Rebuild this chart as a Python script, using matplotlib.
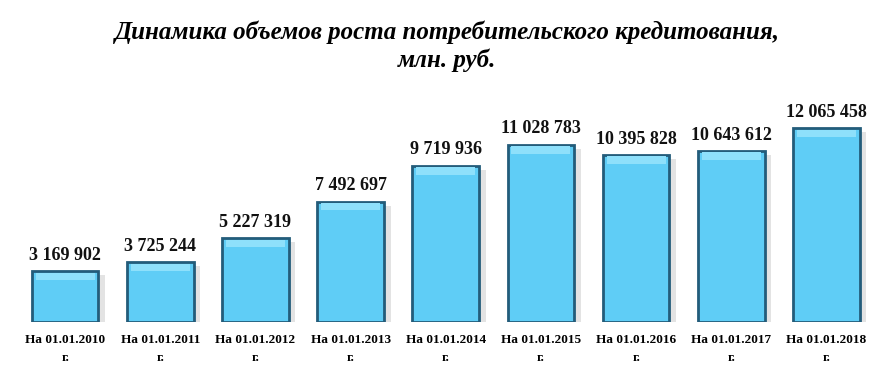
import numpy as np
import matplotlib.pyplot as plt

dates = ["01.01.2010", "01.01.2011", "01.01.2012", "01.01.2013", "01.01.2014",
         "01.01.2015", "01.01.2016", "01.01.2017", "01.01.2018"]
values = [3169902, 3725244, 5227319, 7492697, 9719936,
          11028783, 10395828, 10643612, 12065458]
title = "Динамика объемов роста потребительского кредитования,\nмлн. руб."

plt.rcParams['font.family'] = ['Liberation Serif', 'DejaVu Serif']

fig = plt.figure(figsize=(8.94, 3.69), dpi=100)

# soft gray background gradient
bg = fig.add_axes([0, 0, 1, 1], zorder=-1)
grad = np.concatenate([np.linspace(1.0, 0.93, 60), np.linspace(0.93, 0.90, 40),
                       np.linspace(0.90, 1.0, 40)])
bg.imshow(np.dstack([grad, grad, grad])[:, :1].repeat(10, axis=1),
          aspect='auto', extent=[0, 1, 0, 1], origin='upper')
bg.axis('off')

ax = fig.add_axes([0.0196, 0.1274, 0.958, 0.61])
ax.set_facecolor('none')
x = np.arange(len(values))
vals = np.array(values) / 1e6

# drop shadow
ax.bar(x + 0.07, vals, width=0.7, bottom=-0.25, color='#b0b0b0', alpha=0.35, zorder=1)
ax.bar(x, vals, width=0.7, color='#5FCDF6', edgecolor='#235C7A', linewidth=2, zorder=2)
# bevel highlight at top of each bar
ax.bar(x, [0.45] * len(vals), width=0.62, bottom=vals - 0.55, color='#8EE0FB',
       linewidth=0, zorder=3)

for xi, v in zip(x, values):
    label = f"{v:,}".replace(",", " ")
    ax.text(xi, v / 1e6 + 0.45, label, ha='center', va='bottom',
            fontsize=13, fontweight='bold', color='#111111')

ax.set_xticks(x)
ax.set_xticklabels([f"На {d}\nг." for d in dates], fontsize=9.5,
                   fontweight='bold', linespacing=1.6)
ax.tick_params(axis='x', length=0, pad=9)
ax.set_yticks([])
ax.set_xlim(-0.5, len(values) - 0.5)
ax.set_ylim(0, 14)
for s in ax.spines.values():
    s.set_visible(False)

fig.text(0.5, 0.945, title, ha='center', va='top', fontsize=18,
         fontweight='bold', fontstyle='italic', linespacing=1.25)

fig.savefig('out.png', dpi=100)
